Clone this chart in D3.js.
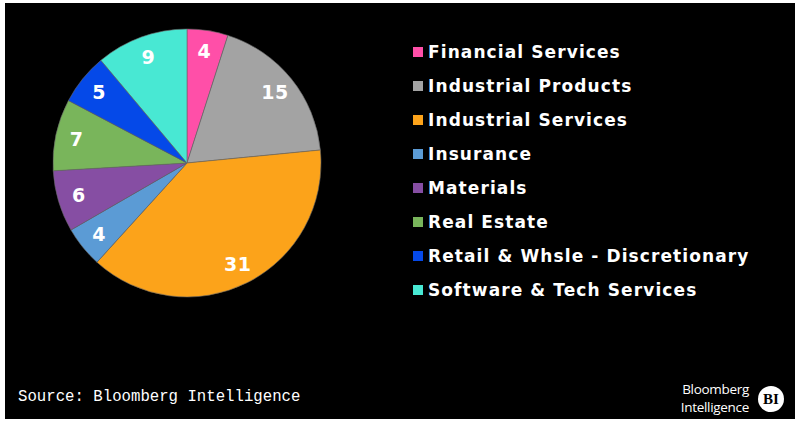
<!DOCTYPE html>
<html><head><meta charset="utf-8">
<script src="https://cdn.jsdelivr.net/npm/d3@7"></script>
<style>html,body{margin:0;padding:0;background:#fff;}svg{display:block;}</style>
</head><body>
<svg id="chart" width="800" height="429"></svg>
<script>
const categories = ["Financial Services","Industrial Products","Industrial Services","Insurance","Materials","Real Estate","Retail & Whsle - Discretionary","Software & Tech Services"];
const values = [4,15,31,4,6,7,5,9];
const colors = ["#ff4fa8","#a3a3a3","#fca31a","#5b9bd5","#864ea3","#79b55b","#0549e8","#48e8d3"];
const sourceText = "Source: Bloomberg Intelligence";

const svg = d3.select("#chart");
svg.append("rect").attr("x",5).attr("y",3).attr("width",790).attr("height",416).attr("fill","#000");

const cx = 187, cy = 163, R = 134;
const pie = d3.pie().sort(null).value(d=>d.v);
const data = pie(categories.map((c,i)=>({c, v: values[i], col: colors[i]})));
const arc = d3.arc().innerRadius(0).outerRadius(R);
const labelArc = d3.arc().innerRadius(113).outerRadius(113);
const g = svg.append("g").attr("transform",`translate(${cx},${cy})`);
g.selectAll("path").data(data).join("path")
  .attr("d",arc).attr("fill",d=>d.data.col)
  .attr("stroke","#666").attr("stroke-width",0.6);
g.selectAll("text").data(data).join("text")
  .attr("transform",d=>`translate(${labelArc.centroid(d)})`)
  .attr("text-anchor","middle").attr("dy","0.36em")
  .attr("fill","#fff").attr("font-family","'DejaVu Sans', Verdana, sans-serif")
  .attr("font-weight","bold").attr("font-size",19).attr("letter-spacing",0.5)
  .text(d=>d.data.v);

const lg = svg.append("g");
const rows = lg.selectAll("g").data(categories).join("g")
  .attr("transform",(d,i)=>`translate(413,${52+i*34})`);
rows.append("rect").attr("x",0).attr("y",-5).attr("width",10).attr("height",10)
  .attr("fill",(d,i)=>colors[i]);
rows.append("text").attr("x",15).attr("dy","0.36em")
  .attr("fill","#fff").attr("font-family","'DejaVu Sans', Verdana, sans-serif")
  .attr("font-weight","bold").attr("font-size",17).attr("letter-spacing",1.1).text(d=>d);

svg.append("text").attr("x",18).attr("y",401)
  .attr("fill","#fff").attr("font-family","'Liberation Mono', 'DejaVu Sans Mono', monospace")
  .attr("font-size",15.7).text(sourceText);

svg.append("text").attr("x",749).attr("y",394).attr("text-anchor","end")
  .attr("fill","#fff").attr("font-family","'Open Sans', sans-serif").attr("font-size",13.5)
  .attr("letter-spacing",-0.3).text("Bloomberg");
svg.append("text").attr("x",749).attr("y",412).attr("text-anchor","end")
  .attr("fill","#fff").attr("font-family","'Open Sans', sans-serif").attr("font-size",13.5)
  .attr("letter-spacing",-0.3).text("Intelligence");
svg.append("circle").attr("cx",771).attr("cy",399).attr("r",13).attr("fill","#fff");
svg.append("text").attr("x",771).attr("y",399).attr("dy","0.36em").attr("text-anchor","middle")
  .attr("fill","#000").attr("font-family","'Liberation Serif', serif").attr("font-weight","bold")
  .attr("font-size",15).text("BI");
</script>
</body></html>
